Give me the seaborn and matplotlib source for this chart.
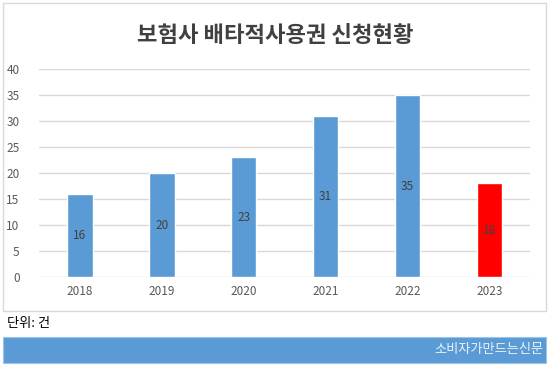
import matplotlib
matplotlib.use("Agg")
import matplotlib.pyplot as plt
import seaborn as sns
import pandas as pd
from matplotlib.patches import Rectangle

years = ["2018", "2019", "2020", "2021", "2022", "2023"]
counts = [16, 20, 23, 31, 35, 18]
bar_colors = ["#5b9bd5", "#5b9bd5", "#5b9bd5", "#5b9bd5", "#5b9bd5", "#ff0000"]

title = "보험사 배타적사용권 신청현황"
unit_note = "단위: 건"
source = "소비자가만드는신문"

sns.set_theme(style="white")
plt.rcParams["font.family"] = ["Noto Sans CJK KR", "DejaVu Sans"]

df = pd.DataFrame({"year": years, "count": counts})

fig = plt.figure(figsize=(5.5, 3.67), dpi=100)
ax = fig.add_axes([0.071, 0.245, 0.893, 0.567])

sns.barplot(data=df, x="year", y="count", hue="year", palette=bar_colors,
            width=0.31, legend=False, ax=ax, saturation=1, zorder=3)

ax.set_ylim(0, 40)
ax.set_yticks(range(0, 41, 5))
ax.yaxis.grid(True, color="#d9d9d9", linewidth=1, zorder=0)
ax.set_axisbelow(True)
for s in ax.spines.values():
    s.set_visible(False)
ax.set_xlabel("")
ax.set_ylabel("")
ax.tick_params(axis="both", length=0, labelsize=8.5, colors="#595959")
ax.tick_params(axis="y", pad=14)
ax.tick_params(axis="x", pad=6)

for i, v in enumerate(counts):
    ax.text(i, v / 2, str(v), ha="center", va="center", fontsize=8.5, color="#404040")

# chart frame
fig.patches.append(Rectangle((3 / 550, 1 - 311 / 367), 543 / 550, 308 / 367,
                             transform=fig.transFigure, fill=False,
                             edgecolor="#d9d9d9", linewidth=1, zorder=0))
fig.text(0.5, 1 - 36 / 367, title, ha="center", va="center",
         fontsize=16, fontweight="bold", color="#404040")

fig.text(7 / 550, 1 - 324 / 367, unit_note, ha="left", va="center",
         fontsize=9.5, color="#000000")

# source banner
fig.patches.append(Rectangle((3 / 550, 1 - 363 / 367), 543 / 550, 26 / 367,
                             transform=fig.transFigure, facecolor="#5b9bd5",
                             edgecolor="#9dc3e6", linewidth=0.8, zorder=0))
fig.text(543 / 550, 1 - 350 / 367, source, ha="right", va="center",
         fontsize=9.5, color="#eaf2fa")

fig.savefig("out.png", dpi=100)
